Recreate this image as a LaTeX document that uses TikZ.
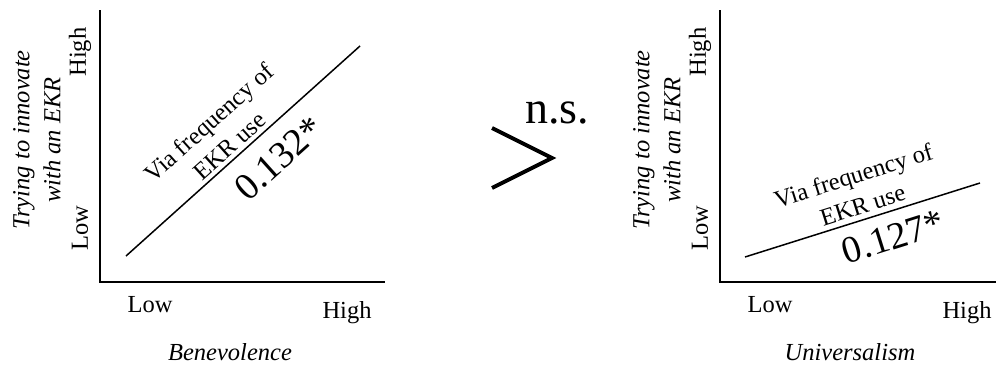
\documentclass[tikz,border=0pt]{standalone}
\usepackage{fontspec}
\setmainfont{Liberation Serif}
\begin{document}
\begin{tikzpicture}[x=1pt,y=-1pt,
  lbl/.style={font=\fontsize{24.5}{31}\selectfont, inner sep=0pt, align=center},
  ilbl/.style={lbl, font=\fontsize{24.5}{31}\selectfont\itshape},
  big/.style={font=\fontsize{38}{40}\selectfont, inner sep=0pt},
  axis/.style={line width=1.6pt},
  trend/.style={line width=1.5pt}]
\useasboundingbox (0,0) rectangle (996,365);
% ---------- left panel ----------
\coordinate (Ltop) at (100,10);
\coordinate (Lorig) at (100,282);
\coordinate (Lright) at (385,282);
\draw[axis] (Ltop) -- (Lorig) -- (Lright);
\coordinate (La) at (126,256);
\coordinate (Lb) at (360,46);
\draw[trend] (La) -- (Lb);
\node[ilbl, rotate=90] (Lylab) at (37,140) {Trying to innovate\\with an EKR};
\node[lbl, rotate=90] (Lyhigh) at (80,52) {High};
\node[lbl, rotate=90] (Lylow) at (80,228) {Low};
\node[lbl] (Lxlow) at (150,305) {Low};
\node[lbl] (Lxhigh) at (347,313) {High};
\node[ilbl] (Lxlab) at (230,352) {Benevolence};
\node[lbl, rotate=41.9] (Lvia) at (219,134) {Via frequency of\\EKR use};
\node[big, rotate=41.9] (Lcoef) at (279,158) {0.132*};
% ---------- comparison ----------
\coordinate (Ga) at (492,128);
\coordinate (Gb) at (552,158);
\coordinate (Gc) at (492,188);
\draw[line width=4pt, miter limit=10] (Ga) -- (Gb) -- (Gc);
\node[font=\fontsize{46}{48}\selectfont, inner sep=0pt] (ns) at (557,113) {n.s.};
% ---------- right panel ----------
\coordinate (Rtop) at (720,10);
\coordinate (Rorig) at (720,282);
\coordinate (Rright) at (996,282);
\draw[axis] (Rtop) -- (Rorig) -- (Rright);
\coordinate (Ra) at (745,257);
\coordinate (Rb) at (980,183);
\draw[trend] (Ra) -- (Rb);
\node[ilbl, rotate=90] (Rylab) at (657,140) {Trying to innovate\\with an EKR};
\node[lbl, rotate=90] (Ryhigh) at (700,52) {High};
\node[lbl, rotate=90] (Rylow) at (700,228) {Low};
\node[lbl] (Rxlow) at (770,305) {Low};
\node[lbl] (Rxhigh) at (967,313) {High};
\node[ilbl] (Rxlab) at (850,352) {Universalism};
\node[lbl, rotate=17.5] (Rvia) at (858,190) {Via frequency of\\EKR use};
\node[big, rotate=17.5] (Rcoef) at (893,237) {0.127*};
\end{tikzpicture}
\end{document}
